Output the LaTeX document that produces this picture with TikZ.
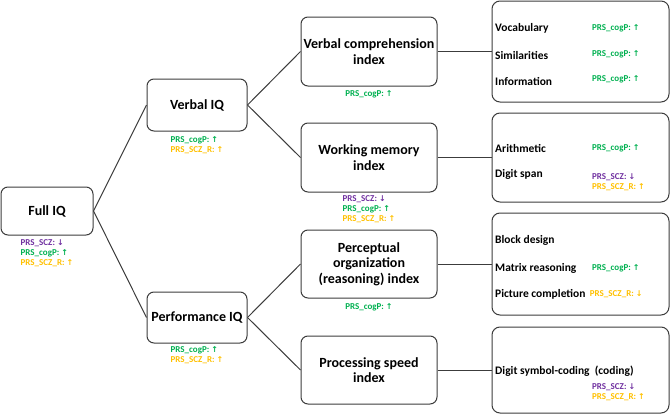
\documentclass[tikz,border=0pt]{standalone}
\usepackage{fontspec}
\usepackage{xcolor}
\usepackage{tikz}
\usetikzlibrary{positioning}
\setmainfont{Carlito}
\newfontfamily\arrowfont{DejaVu Sans}

\definecolor{sczpurple}{RGB}{112,48,160}
\definecolor{coggreen}{RGB}{0,176,80}
\definecolor{sczrgold}{RGB}{255,192,0}
\definecolor{linegray}{RGB}{60,60,60}

\newcommand{\uparr}{{\arrowfont\fontsize{8}{10}\selectfont ↑}}
\newcommand{\dnarr}{{\arrowfont\fontsize{8}{10}\selectfont ↓}}
\newcommand{\sczdn}{\textcolor{sczpurple}{PRS\_SCZ: \dnarr}}
\newcommand{\cogup}{\textcolor{coggreen}{PRS\_cogP: \uparr}}
\newcommand{\sczrup}{\textcolor{sczrgold}{PRS\_SCZ\_R: \uparr}}
\newcommand{\sczrdn}{\textcolor{sczrgold}{PRS\_SCZ\_R: \dnarr}}

\begin{document}
\begin{tikzpicture}[x=1pt, y=-1pt,
    box/.style={draw=linegray, line width=1pt, rounded corners=7pt, align=center,
      font=\fontsize{14}{15.5}\selectfont\bfseries, inner sep=2pt},
    subbox/.style={draw=linegray, line width=1pt, rounded corners=8pt,
      minimum width=177pt},
    item/.style={anchor=west, font=\fontsize{11.5}{13}\selectfont\bfseries, inner sep=0pt},
    tag/.style={align=left, font=\fontsize{9}{10}\selectfont\bfseries, inner sep=0pt},
    link/.style={draw=linegray, line width=1pt}]
  \useasboundingbox (0,0) rectangle (670,415);

  % IQ boxes
  \node[box, minimum width=92pt, minimum height=48pt]  (full)    at (47,211)    {Full IQ};
  \node[box, minimum width=100pt, minimum height=52pt] (verbal)  at (197,105)   {Verbal IQ};
  \node[box, minimum width=100pt, minimum height=51pt] (perf)    at (197,317.5) {Performance IQ};

  % index boxes
  \node[box, minimum width=136pt, minimum height=69pt] (vcomp)   at (369,51.5)  {Verbal comprehension\\index};
  \node[box, minimum width=136pt, minimum height=69pt] (wmem)    at (369,157.5) {Working memory\\index};
  \node[box, minimum width=136pt, minimum height=68pt] (percept) at (369,264)   {Perceptual\\organization\\(reasoning) index};
  \node[box, minimum width=136pt, minimum height=68pt] (pspeed)  at (369,370)   {Processing speed\\index};

  % subtest boxes
  \node[subbox, minimum height=101pt] (vcompsub)   at (580.5,51.5)  {};
  \node[subbox, minimum height=89pt]  (wmemsub)    at (580.5,157.5) {};
  \node[subbox, minimum height=102pt] (perceptsub) at (580.5,264)   {};
  \node[subbox, minimum height=86pt]  (pspeedsub)  at (580.5,370)   {};

  % PRS tags under the boxes
  \node[tag, below=4pt of full]    (fulltag)    {\sczdn\\\cogup\\\sczrup};
  \node[tag, below=5pt of verbal]  (verbaltag)  {\cogup\\\sczrup};
  \node[tag, below=3pt of perf]    (perftag)    {\cogup\\\sczrup};
  \node[tag, below=4pt of vcomp]   (vcomptag)   {\cogup};
  \node[tag, below=3pt of wmem]    (wmemtag)    {\sczdn\\\cogup\\\sczrup};
  \node[tag, below=5pt of percept] (percepttag) {\cogup};

  % subtests
  \node[item] (vocab)  at (495,28)  {Vocabulary};
  \node[item] (simil)  at (495,55)  {Similarities};
  \node[item] (inform) at (495,81)  {Information};
  \node[tag, anchor=west] (vocabtag)  at (592,28) {\cogup};
  \node[tag, anchor=west] (similtag)  at (592,54) {\cogup};
  \node[tag, anchor=west] (informtag) at (592,79) {\cogup};

  \node[item] (arith)  at (495,148) {Arithmetic};
  \node[item] (dspan)  at (495,174) {Digit span};
  \node[tag, anchor=west] (arithtag) at (592,148) {\cogup};
  \node[tag, anchor=west] (dspantag) at (592,182) {\sczdn\\\sczrup};

  \node[item] (block)  at (495,240) {Block design};
  \node[item] (matrix) at (495,268) {Matrix reasoning};
  \node[item] (pictc)  at (495,294) {Picture completion};
  \node[tag, anchor=west] (matrixtag) at (592,268) {\cogup};
  \node[tag, right=4pt of pictc]      (pictctag) {\sczrdn};

  \node[item] (dsymb)  at (495,371) {Digit symbol-coding~ (coding)};
  \node[tag, anchor=west] (dsymbtag) at (592,392) {\sczdn\\\sczrup};

  % connectors
  \path[link]
    (full.east)    edge (verbal.west)
                   edge (perf.west)
    (verbal.east)  edge (vcomp.west)
                   edge (wmem.west)
    (perf.east)    edge (percept.west)
                   edge (pspeed.west)
    (vcomp.east)   edge (vcompsub.west)
    (wmem.east)    edge (wmemsub.west)
    (percept.east) edge (perceptsub.west)
    (pspeed.east)  edge (pspeedsub.west);
\end{tikzpicture}
\end{document}
